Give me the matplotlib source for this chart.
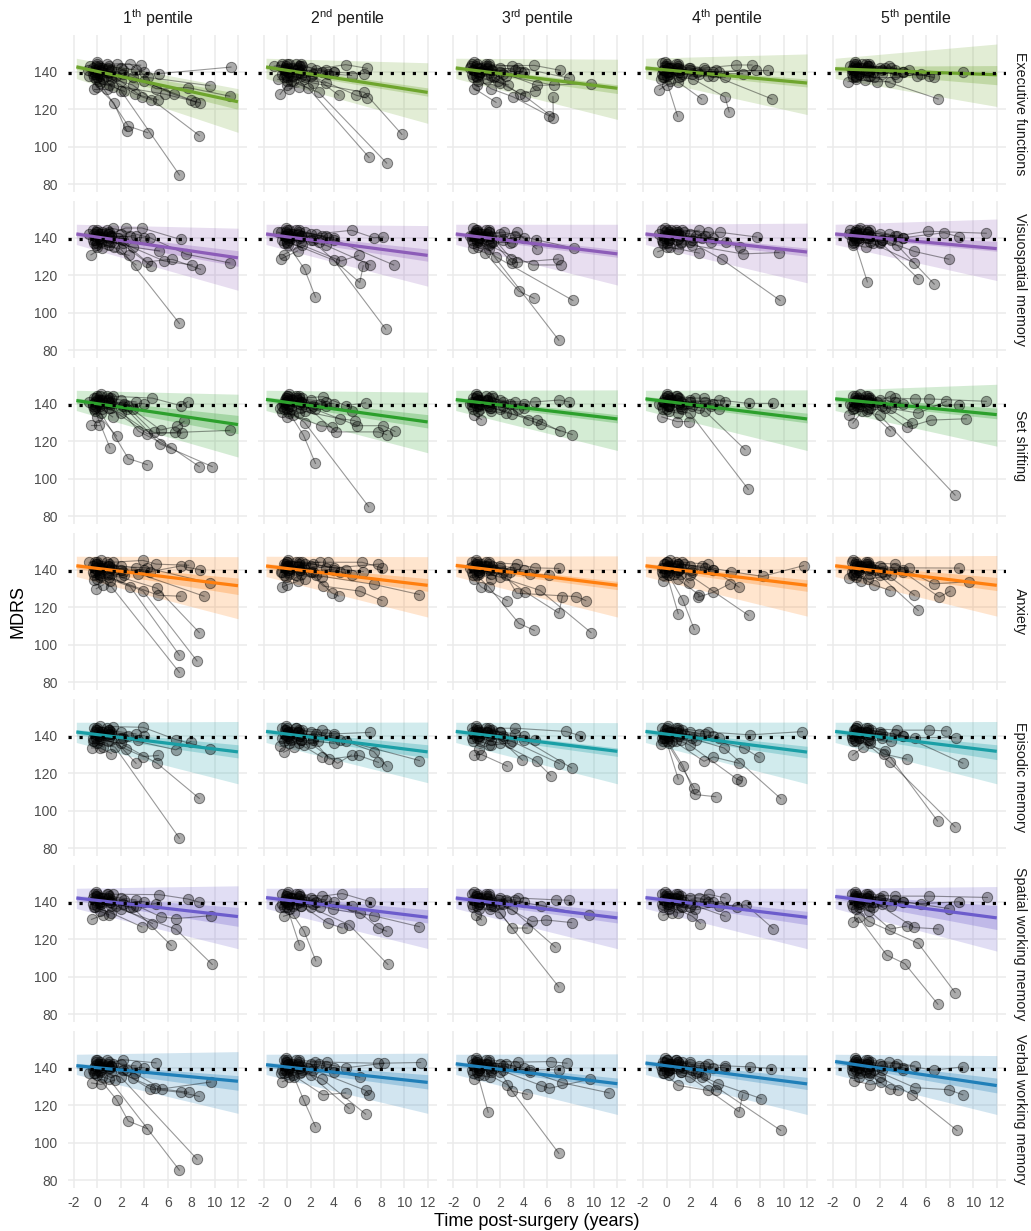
import matplotlib
matplotlib.use('Agg')
import matplotlib.pyplot as plt
import numpy as np

plt.rcParams['font.family'] = ['Liberation Sans', 'DejaVu Sans']
plt.rcParams['mathtext.fontset'] = 'custom'
plt.rcParams['mathtext.rm'] = 'Liberation Sans'
plt.rcParams['axes.unicode_minus'] = False

# ---- labels / scales ----
domains = ['Executive functions', 'Visuospatial memory', 'Set shifting', 'Anxiety',
           'Episodic memory', 'Spatial working memory', 'Verbal working memory']
pentiles = ['1', '2', '3', '4', '5']
suffixes = ['th', 'nd', 'rd', 'th', 'th']
colours = ['#6ea52d', '#8c5cb8', '#2ca02c', '#ff7f0e', '#1a9fa6', '#6c5ccc', '#1f7fb8']
x_ticks = [-2, 0, 2, 4, 6, 8, 10, 12]
y_ticks = [80, 100, 120, 140]
ref_mdrs = 139.6
fit_x = [-1.8, 12]

# ---- patient trajectories per panel: (t1, mdrs1, t2, mdrs2, ...) ----
# stable patients packed near baseline, seen in every panel
baseline_cluster = [(-0.2,141, 0.9,142), (0.0,144, 1.1,140, 2.2,139), (-0.4,139, 0.4,142),
                    (0.1,142, 1.0,143, 2.0,142, 3.3,141), (-0.3,137, 0.2,139, 1.2,138),
                    (-0.1,143, 1.2,141, 4.0,140), (0.2,140, 0.8,144)]

exec_fn = [
    [(-0.3,140, 1.6,138, 5.3,139, 11.4,142.5), (0.0,132, 1.4,123.4, 2.5,108.4), (0.1,135, 2.65,111, 4.3,107.5),
     (0.0,137, 2.0,130, 7.0,85), (0.2,138, 3.0,133, 8.7,106), (-0.4,142, 2.75,144.3, 4.3,137, 9.6,132.6),
     (-0.2,139, 1.2,136, 3.25,128, 5.2,125), (0.3,141, 2.0,135, 3.8,126.6, 4.6,125),
     (-0.6,143, 1.0,140, 4.0,135, 6.5,128, 8.35,124), (-0.1,136, 1.0,133, 5.8,128, 8.8,123.4),
     (0.0,145, 2.2,141, 5.0,131, 7.7,131.6, 11.3,127), (-0.8,141, 0.8,138, 3.0,137, 8.0,125),
     (-0.3,131, 0.8,131), (0.1,143, 1.7,144.3, 3.7,143.5), (-0.7,138, 0.5,136), (0.2,134, 1.3,132, 2.3,129.5)],
    [(-0.3,141, 1.0,140, 5.0,143.8, 6.85,141.8), (0.0,137, 1.8,131.3, 7.0,94.3), (0.3,135, 2.7,129, 8.5,91.3),
     (-0.2,139, 2.2,134, 6.6,129, 9.8,106.6), (-0.5,143, 1.1,143, 4.4,127.5), (0.1,140, 2.0,138, 5.9,127.5, 6.8,126),
     (-0.8,136, 0.5,135, 3.0,140, 6.6,139), (-0.6,128, 0.0,133), (-1.1,143, 0.2,144, 1.3,143),
     (0.0,135, 1.5,137, 3.5,139, 5.5,138), (-0.2,142, 1.2,144, 2.5,141, 4.0,140), (0.5,138, 1.4,136, 3.3,134),
     (-0.4,144, 0.8,139), (0.2,131, 1.0,132)],
    [(-0.3,141, 0.8,143, 4.9,143.4, 7.1,140.8), (-0.2,131, 1.64,123.7), (0.0,137, 1.2,131, 3.1,126.6, 6.2,116.4),
     (0.2,139, 2.0,134, 4.1,127, 6.53,115.5, 6.5,126.7), (-0.5,143, 2.0,140, 5.1,132.7, 9.72,133.6),
     (0.1,135, 1.5,137, 3.7,128, 5.0,130), (-0.4,144, 1.0,144, 3.0,143, 7.9,136.6), (0.3,140, 2.5,138, 6.6,132.7),
     (-0.1,138, 0.9,136, 2.7,133), (-0.6,142, 0.5,141, 3.5,142), (0.0,133, 1.8,135), (-0.2,145, 1.3,141, 3.8,140)],
    [(-0.3,141, 0.95,116.3), (-0.6,130.5, 0.0,133, 1.0,134.5, 3.0,125.5), (0.0,138, 2.3,136, 5.0,126.5, 5.35,118.6),
     (0.2,140, 1.1,137, 4.0,138, 9.0,125.5), (-0.4,144.5, 1.0,144, 3.2,142, 5.97,143.6, 7.3,143.6),
     (0.1,142, 2.0,141, 4.5,140, 7.6,140.7), (-0.2,137, 1.3,139, 3.5,138, 5.0,137),
     (0.0,143, 0.9,141, 2.6,140, 8.7,140.7), (-0.5,136, 0.3,135), (0.3,139, 1.9,142, 4.2,141),
     (-0.1,145, 1.0,142), (0.0,140, 2.8,139, 6.5,139)],
    [(-0.3,140, 1.0,138, 7.0,125.5), (-0.7,134.7, 0.75,135.6), (0.0,136, 1.74,134.7, 2.88,134.7),
     (-0.2,144, 1.0,143, 3.0,142, 5.2,138, 9.1,139.8), (0.1,142, 1.2,143, 4.5,141, 6.2,137.5),
     (-0.4,141, 2.5,142, 6.6,137), (0.0,138, 0.8,140, 3.3,139), (-0.5,143, 0.5,144, 2.2,141),
     (0.2,139, 1.5,137, 3.5,137, 5.5,139), (-0.1,145, 1.1,144), (0.0,137, 1.4,140), (-0.3,142, 2.8,143, 4.0,140)],
]

visuo_mem = [
    [(0.0,137, 2.0,134, 7.0,94.3), (-0.55,130.9, 0.4,134.6, 2.7,130.6), (-0.3,142, 1.4,135, 3.3,125.5),
     (0.2,140, 2.4,145.2, 3.8,145.2, 7.1,139.1), (-0.2,139, 1.8,140, 4.2,127.2, 6.4,128.5, 8.8,123.2),
     (0.0,143, 1.0,142, 4.55,125.1), (0.3,138, 2.2,137, 5.7,127.6, 8.1,125.5),
     (-0.4,144, 1.3,145, 4.5,140, 7.6,131.2, 11.3,126.6), (-0.1,136, 0.9,138, 3.0,135, 5.3,133),
     (0.1,141, 1.2,141, 2.8,141), (-0.7,142, 0.4,143), (0.0,135, 1.0,136)],
    [(0.0,138, 4.0,128, 8.42,91.3), (0.1,136, 1.49,123.2, 2.42,108.4), (-0.2,141, 2.0,139, 6.2,116.1, 6.5,125.1),
     (0.3,140, 3.3,136, 7.1,125.5), (-0.5,143, 1.0,144, 4.0,139, 9.1,125.5),
     (0.0,142, 2.5,142, 5.5,144, 7.4,140, 8.2,140.4), (-0.5,128.8, 0.9,133),
     (-0.3,131, 1.3,136, 4.6,127.6, 6.1,130.6), (0.2,144, 1.2,141, 3.0,141), (-0.8,143, 0.3,141),
     (0.0,137, 0.8,139, 2.7,138), (-0.1,145, 1.5,143, 3.5,140)],
    [(0.0,138, 1.0,134, 7.0,85.4), (-0.3,134.5, 0.7,132, 3.6,111.5, 4.9,107.7), (0.2,140, 1.6,130, 8.2,106.6),
     (-0.2,142, 2.3,143, 5.05,139, 8.3,134.4), (0.1,143, 1.0,143, 2.95,128.7, 3.4,127),
     (-0.4,141, 1.4,138, 3.0,126.6, 6.96,128.7), (0.0,139, 3.4,142.9, 5.1,134.1),
     (0.3,137, 1.0,136, 4.77,125.5, 7.2,125.5), (-0.1,144, 0.7,141, 2.8,137), (-0.6,141, 0.5,140),
     (0.1,135, 1.2,137, 3.0,138), (-0.3,145, 1.0,144)],
    [(-0.2,140, 2.0,138, 4.7,128.6, 9.69,106.6), (-0.75,132.5, 0.3,135, 2.8,131.8),
     (0.0,137, 2.2,136, 6.5,131.4, 9.6,132.1), (0.2,143, 1.3,144, 3.5,143, 4.6,142.9, 7.7,140.4),
     (-0.4,144, 1.0,142, 5.1,137.8), (0.1,141, 3.0,140, 6.3,135.3), (-0.3,138, 0.9,139, 2.5,141),
     (0.0,135, 1.0,134), (-0.6,142, 0.4,144, 1.5,143), (0.2,139, 1.2,137, 3.8,138), (-0.1,145, 0.8,143, 2.8,144)],
    [(-0.3,141, 0.95,116.5), (0.0,139, 2.0,138, 5.3,118.2), (0.2,140, 3.5,136, 6.66,115.3),
     (-0.2,138, 1.4,137, 4.97,126.6), (0.1,142, 2.2,139, 4.97,132.7, 7.9,128.6),
     (-0.5,144, 1.0,143, 3.5,141, 6.1,143.5, 11.1,142.4), (0.0,143, 1.3,141, 4.0,140, 7.5,142.7, 8.8,140.4),
     (-0.3,136, 0.8,135, 2.0,137), (0.3,145, 1.2,144, 2.8,142), (-0.1,140, 0.9,140, 3.0,139), (-0.6,142, 0.2,144)],
]

set_shift = [
    [(0.0,133, 1.07,116.5), (-0.2,136, 1.64,122.8), (0.3,135, 2.64,110.8, 4.26,107.5), (-0.1,139, 2.0,135, 8.7,106.5),
     (0.1,141, 2.5,137, 5.35,118.6, 9.8,106.5), (-0.55,128.8, 0.1,128.8), (-0.3,143, 1.2,143, 3.5,125.4, 6.26,116.5),
     (0.2,144, 1.3,144, 4.7,143, 7.1,139, 7.7,141.1), (-0.4,140, 1.0,138, 4.26,124, 6.63,124.7, 11.3,125.8),
     (0.0,142, 2.3,140, 4.8,124.7, 7.2,124.3), (-0.2,138, 3.0,137, 5.4,126, 6.8,128, 7.4,130.6),
     (0.3,145, 1.0,141, 2.6,139), (-0.7,141, 0.4,137, 1.3,133)],
    [(0.0,137, 1.5,130, 6.97,85.1), (0.2,135, 1.4,123.2, 2.42,108.2), (-0.4,135.6, 0.5,134, 2.9,128.2, 3.8,127.6),
     (-0.2,142, 1.4,140, 4.2,125, 7.8,125, 8.5,123.5), (0.1,144, 1.3,143, 3.1,143.8, 5.0,139, 6.7,140.5),
     (-0.3,140, 2.0,138, 6.0,128.3, 8.2,128.3, 9.2,125.3), (0.0,143, 1.2,141, 3.3,139, 5.5,136),
     (0.3,139, 1.5,136, 4.5,132, 5.8,131), (-0.1,141, 0.8,143, 2.8,140), (-0.6,138, 0.3,137),
     (0.2,145, 1.0,144), (0.0,133, 1.0,135, 2.4,137)],
    [(-0.2,134, 0.4,131.6), (0.0,139, 2.0,137, 5.5,129, 8.15,123.6), (0.2,140, 3.0,134.4, 5.1,131.6, 7.1,125.4),
     (-0.3,143, 1.3,144, 4.4,131.6), (0.1,142, 2.2,141, 5.0,141, 7.04,142, 7.9,141), (-0.4,141, 1.0,139, 3.5,137),
     (0.0,144, 1.4,143, 2.8,140), (0.3,137, 1.2,136, 2.5,135), (-0.1,145, 0.9,142),
     (-0.6,140, 0.4,140, 4.0,138), (0.1,136, 1.1,138)],
    [(0.0,137, 2.0,135, 6.98,94.4), (0.2,139, 3.3,136, 6.7,115.6), (-0.2,142, 2.0,141, 4.5,142, 7.0,140.2, 9.1,140.2),
     (-0.4,133, 0.9,130.5, 1.9,130.5), (0.1,144, 1.1,143, 3.2,143, 5.0,141), (-0.3,141, 1.2,139, 4.5,137.4),
     (0.3,143, 1.5,140, 2.8,138), (-0.6,140, 0.2,136, 1.0,135), (0.0,145, 0.9,144, 2.4,143), (0.1,139, 1.3,137, 3.8,139)],
    [(-0.28,129.7, 0.5,136, 2.0,134, 8.44,91.3), (-0.64,133.8, 1.0,137, 2.92,125.6),
     (0.0,141, 1.5,140, 4.3,127.4, 6.4,131.3, 9.4,132), (0.2,143, 1.2,143, 3.3,143, 5.0,142.6, 6.2,142.6, 11.1,141.3),
     (-0.3,144, 1.0,144, 4.8,129.7), (0.1,139, 2.5,138, 5.3,135, 7.7,141.4), (-0.2,138, 0.9,136, 3.0,138, 8.8,139.5),
     (0.0,142, 1.8,141, 2.9,144), (0.3,145, 1.3,142), (-0.5,140, 0.4,141)],
]

anxiety = [
    [(0.0,135, 1.2,131, 7.0,85.3), (0.2,137, 2.8,131, 7.0,94.5), (-0.2,139, 3.9,128.6, 8.5,91.4),
     (0.1,138, 2.0,136, 5.1,130.1, 8.7,106.5), (-0.1,129.9, 0.5,132), (-0.3,134.7, 1.0,136, 5.2,126.4, 7.1,125.9),
     (0.0,143, 1.3,144, 3.9,145, 5.0,143, 7.8,142.4), (-0.4,142, 2.0,140, 4.5,139, 7.1,142, 8.8,140),
     (0.3,141, 1.4,140, 3.5,138, 9.1,125.9), (-0.2,144, 1.0,142, 4.2,141, 9.6,133), (0.0,140, 0.9,138, 2.3,137),
     (-0.7,144, 0.3,145), (0.2,136, 1.1,134)],
    [(-0.4,130.7, 0.0,132, 1.5,135), (0.1,140, 2.0,139, 3.8,127.7, 4.4,126),
     (-0.2,142, 1.4,141, 3.1,131.3, 6.2,128.6, 8.1,123.6), (0.2,138, 2.5,137, 7.4,132.2, 11.3,126.8),
     (0.0,144, 1.0,144, 3.5,144, 6.4,144, 8.1,141), (-0.3,143, 1.3,144, 4.0,141, 7.8,143),
     (0.3,141, 2.2,143, 5.0,140, 6.5,139), (-0.5,139, 0.8,137, 3.0,136), (0.1,145, 1.5,143, 2.8,144),
     (-0.1,136, 0.9,134), (0.0,142, 1.1,140, 4.5,139, 5.5,137)],
    [(0.0,137, 1.0,131, 3.6,111.4, 4.9,107.7), (-0.2,135, 0.4,130.7, 2.6,123.6), (0.2,139, 2.0,136, 5.4,129, 9.75,106.5),
     (-0.3,142, 1.5,140, 4.1,128.4, 7.0,116.9, 7.3,125.7), (0.1,140, 2.5,137, 3.4,127.5, 8.5,125.7, 9.3,123.6),
     (-0.4,144, 1.0,144, 3.4,143, 5.0,141, 7.0,140.7), (0.0,143, 1.3,142, 4.5,138, 6.2,137),
     (0.3,141, 0.9,140, 2.8,139), (-0.1,145, 0.7,142, 2.0,141), (0.2,138, 1.2,135), (-0.6,141, 0.4,143)],
    [(0.0,138, 1.0,116.6), (0.2,137, 1.4,123.7, 2.37,108.2), (-0.3,133.8, 1.0,135, 2.8,126.5, 2.7,125.4, 4.0,128, 5.4,132.5),
     (0.1,141, 2.0,137, 7.0,115.7), (-0.2,143, 1.5,143, 4.0,140, 6.2,130.7),
     (0.0,144, 1.0,143, 3.0,142, 5.5,139, 8.2,136.5, 11.7,142.2), (-0.4,141, 0.9,139, 1.9,133),
     (0.3,145, 1.3,144, 3.5,143), (-0.1,139, 0.6,138, 2.2,140), (0.1,142, 1.0,140)],
    [(0.0,139, 2.0,137, 5.3,118.3), (0.2,141, 2.5,138, 4.97,126.5), (-0.2,138, 1.5,132, 2.9,128.9),
     (0.1,143, 1.2,142, 4.0,139, 7.1,125.4, 8.0,128.6), (-0.4,144, 1.0,144, 3.3,143, 6.6,132.5, 9.6,133.6),
     (-0.6,135.6, 0.4,134), (0.3,142, 1.3,141, 4.5,141, 8.8,140.9), (0.0,136, 1.0,135, 3.0,137),
     (-0.3,145, 0.8,143, 2.2,141), (0.2,140, 1.6,140)],
]

episodic_mem = [
    [(0.0,136, 1.5,134, 7.0,85.4), (0.2,138, 2.0,136, 5.1,125.3, 8.7,106.6), (-0.5,133.5, 0.25,133.5, 1.2,130.5),
     (-0.2,142, 1.0,141, 3.3,125.3), (0.1,140, 2.4,133, 3.9,128.9, 5.2,129.5),
     (-0.3,144, 1.3,144.9, 3.9,144.5, 6.7,138, 9.6,133.1), (0.0,143, 2.0,139, 6.7,132.5, 7.97,136.9),
     (0.3,141, 1.2,142, 3.5,138), (-0.1,139, 0.9,137), (0.2,145, 1.0,143, 2.6,140), (-0.4,137, 0.5,134)],
    [(-0.3,131.2, 0.6,134), (-0.6,134.3, 1.0,136, 3.0,128.5), (0.0,139, 2.0,136, 4.3,125.3, 5.5,129.8),
     (0.2,141, 2.2,138, 3.6,127.6, 6.1,129.5, 7.8,125.8), (-0.2,143, 1.3,143, 4.0,141, 7.1,141.8),
     (0.1,142, 1.0,140, 5.0,137, 7.4,131.6, 8.5,123.7), (0.0,140, 2.5,141, 4.5,138, 11.3,126.8),
     (-0.4,144, 0.8,144, 3.0,143), (0.3,138, 1.4,135, 2.6,137), (-0.1,145, 0.9,142), (0.2,136, 1.2,138, 4.0,136)],
    [(-0.2,129.6, 0.4,130, 2.6,123.8), (0.0,139, 2.0,136, 5.1,126.3, 6.3,118.8), (0.2,140, 3.0,137, 7.05,125.2),
     (-0.3,142, 1.5,141, 3.9,126.9), (0.1,143, 1.3,143, 4.0,138, 8.1,122.8),
     (-0.4,144, 1.0,144, 3.3,144, 7.6,142.3, 8.8,140.1), (0.0,141, 2.2,140, 5.0,138),
     (0.3,137, 1.2,135, 2.8,136), (-0.1,145, 0.9,142, 2.0,142), (0.2,133, 1.0,135)],
    [(0.0,137, 1.0,117), (0.2,136, 1.4,124, 2.4,108.7, 4.2,107.5), (-0.2,139, 2.37,112.2),
     (0.1,140, 2.0,135, 6.0,117, 6.4,116), (-0.3,141, 3.2,126.4, 4.0,128.7, 6.2,125.3),
     (0.0,143, 2.5,138, 4.9,133.5, 9.75,106.5), (0.3,142, 1.5,141, 6.6,133.5, 7.9,128.5),
     (-0.4,144, 1.0,144, 3.5,142, 7.1,140.5, 11.6,142.2), (-0.5,135.6, 0.5,137), (0.1,145, 1.3,143, 2.8,141),
     (-0.1,139, 0.8,137, 4.5,139)],
    [(0.0,137, 2.5,132, 6.94,94.6), (0.2,139, 2.9,125.8, 8.44,91.4), (-0.3,129.7, 0.6,134),
     (0.1,141, 2.4,130.2, 4.3,127.6), (-0.2,143, 1.3,143, 4.0,140, 9.1,125.4),
     (0.0,144, 1.0,144, 3.5,143, 6.2,143, 7.7,142.6), (0.3,142, 2.0,141, 5.0,139, 8.5,139),
     (-0.4,140, 1.0,138, 3.0,137), (0.1,145, 0.8,142, 2.2,141), (-0.1,138, 1.2,136)],
]

spatial_wm = [
    [(-0.5,130.6, 0.5,133), (0.0,138, 2.0,136, 6.7,125.4, 9.8,106.6), (0.2,140, 3.0,137, 6.3,116.7),
     (-0.2,137, 1.2,134, 3.8,126.6), (0.1,141, 1.6,138, 4.7,128.4), (-0.3,144, 1.3,144, 5.3,143.8, 7.7,141.5, 8.7,139.8),
     (0.0,143, 2.3,141, 5.4,132, 6.7,131, 9.7,132.6), (0.3,139, 1.2,140, 3.3,138, 5.0,139),
     (-0.4,142, 0.8,141, 2.8,137), (0.2,135, 1.0,133), (-0.1,145, 0.9,144)],
    [(0.0,137, 1.05,117), (0.2,136, 1.45,124.3, 2.45,108.5), (-0.3,132.3, 0.6,134),
     (0.1,139, 2.0,137, 5.3,127.7, 8.6,106.6), (-0.2,141, 1.2,138, 3.5,128.6, 4.7,126),
     (0.0,143, 2.5,140, 6.2,134.2, 7.8,126, 8.5,124.3), (-0.4,144, 1.0,144, 3.0,143, 4.7,144.4, 7.1,140),
     (0.3,142, 1.4,141, 3.9,136, 7.4,132.5, 11.3,126.7), (-0.6,137, 0.5,138, 2.8,137),
     (0.1,145, 1.1,143, 2.2,141), (-0.1,140, 0.8,139, 5.5,138)],
    [(0.0,138, 2.0,134, 7.0,94.6), (0.2,139, 3.0,136, 6.7,115.8), (-0.1,133.1, 0.4,130.4),
     (-0.3,141, 1.5,138, 3.0,126, 4.3,126), (0.1,142, 2.0,139, 4.7,129.5, 5.9,130.3, 8.1,128.9),
     (0.0,143, 2.5,141, 5.5,138, 9.6,132.7), (-0.4,144, 1.0,144, 3.5,142, 6.8,141, 7.9,140.8),
     (0.3,140, 1.2,139, 2.6,140), (-0.2,145, 0.8,143, 1.9,141), (0.2,136, 1.1,136)],
    [(0.0,139, 2.0,137, 6.8,138.3, 9.1,125.7), (-0.3,132.9, 0.5,134), (0.2,138, 2.2,132.3, 2.9,128.4),
     (-0.2,141, 1.5,140, 5.0,132.3), (0.1,143, 1.2,143, 3.6,144, 5.0,142), (-0.4,144, 1.0,144, 2.8,142, 6.0,137),
     (0.0,142, 0.8,140, 3.5,140), (0.3,140, 1.3,137, 2.4,136), (-0.1,145, 0.7,142), (0.2,136, 1.0,134, 4.5,138)],
    [(-0.3,129, 0.2,131.7, 2.6,111.6, 4.15,107, 6.97,85.4), (0.0,136, 1.05,129.6, 5.3,117.8, 8.44,91.6),
     (0.2,140, 2.9,125.5, 4.3,127), (-0.2,142, 1.5,140, 4.95,126.3, 7.0,125.5), (0.1,143, 1.2,143, 4.0,140, 7.9,136.4),
     (-0.4,144, 1.0,144, 3.3,143, 6.2,143, 11.2,142.3), (0.0,141, 2.0,141, 5.5,139, 8.8,140),
     (0.3,139, 1.4,137, 3.0,138), (-0.1,145, 0.9,142, 2.3,143), (0.2,137, 1.1,135)],
]

verbal_wm = [
    [(0.0,136, 1.0,134, 7.0,85.4), (0.2,138, 2.0,135, 8.5,91.3), (-0.2,137, 1.64,123, 2.64,111.6, 4.27,107.5),
     (-0.5,131.9, 0.3,131.1, 1.5,133.5), (0.1,141, 2.2,144.3, 5.0,142.6), (-0.3,140, 1.2,141, 4.5,128.7, 7.1,126.9, 8.7,124.7),
     (0.0,142, 3.0,134.4, 4.9,129.1, 7.8,126.9), (0.3,139, 1.0,140, 3.2,137, 5.5,128.7, 9.67,132.4),
     (-0.7,137.3, 0.4,135), (-0.1,144, 0.9,141, 2.5,139), (0.2,143, 1.3,142)],
    [(-0.4,132.6, 0.6,135, 1.4,123, 2.42,108.6), (0.0,138, 2.0,136, 5.3,118.3), (0.2,140, 3.0,134, 6.7,115.3),
     (-0.2,139, 3.05,125.6, 5.0,126.6), (0.1,142, 1.8,140, 6.7,127.9, 7.0,125.6),
     (-0.3,144, 1.0,144, 3.4,143, 7.8,142.4, 11.4,142.8), (0.0,143, 2.4,143, 5.0,140, 8.3,142.4),
     (0.3,141, 1.3,139, 4.0,138, 6.2,135), (-0.5,137, 0.5,136), (-0.1,145, 0.9,141, 2.7,142), (0.2,135, 1.1,137)],
    [(0.0,138, 0.97,116.3), (0.2,139, 2.6,131, 7.0,94.4), (-0.2,133.9, 0.6,136), (0.1,141, 2.0,138, 3.0,127.6, 4.3,125.8),
     (-0.3,142, 1.5,140, 5.5,130.5, 6.2,129.1, 9.7,133.9), (0.0,143, 2.5,142, 4.5,138, 7.3,132, 11.3,126.6),
     (-0.4,144, 1.0,144, 3.5,143, 6.3,143.3, 7.7,142.4), (0.3,140, 1.2,139, 4.5,139, 7.0,138.9),
     (-0.1,145, 0.8,142, 2.2,141), (0.2,136, 1.1,135)],
    [(0.0,138, 2.0,135, 6.2,116.5, 6.5,125.6), (0.2,139, 3.0,135, 9.75,106.6), (-0.2,137, 1.0,130.6, 3.5,127.9, 4.2,128.3),
     (0.1,141, 2.5,137, 4.4,131.6, 8.1,123.5), (-0.3,143, 1.3,143, 3.5,142, 5.0,141, 7.1,140.5, 8.9,139.6),
     (0.0,144, 1.0,143, 2.8,141, 5.0,140), (0.3,142, 1.5,140, 2.7,138), (-0.5,141, 0.4,140),
     (-0.1,145, 0.8,144, 2.0,143), (0.2,136, 1.2,138, 3.3,136)],
    [(0.0,139, 2.0,135, 4.8,125.6, 8.6,106.6), (-0.2,133.2, 1.2,131, 2.1,132.2), (0.2,140, 2.9,128.6, 3.6,128.3),
     (-0.3,142, 1.5,139, 5.0,129.4, 7.9,128.3, 9.1,125.6), (0.1,143, 1.3,143, 3.5,142, 6.6,138.7, 9.1,140.5),
     (0.0,144, 1.0,144, 2.8,143, 5.0,141), (-0.4,141, 0.8,138, 4.0,139), (0.3,137, 1.1,136),
     (-0.1,145, 0.9,142, 2.2,141), (0.2,135, 1.2,137)],
]

trajectories = [exec_fn, visuo_mem, set_shift, anxiety, episodic_mem, spatial_wm, verbal_wm]

# ---- fitted line and bands, value at fit_x[0] and fit_x[1] ----
fit_start = [[142.6, 142.5, 142.0, 142.0, 141.6], [142.0, 142.0, 142.0, 142.0, 142.0],
             [141.7, 142.3, 142.2, 142.6, 142.6], [142.1, 142.0, 142.3, 142.1, 142.1],
             [142.0, 142.3, 142.3, 142.3, 142.3], [142.0, 142.2, 142.0, 142.2, 142.8],
             [141.1, 141.6, 142.1, 142.5, 143.3]]
fit_end = [[124.0, 129.0, 131.2, 134.0, 138.4], [129.3, 130.6, 131.4, 132.4, 134.2],
           [128.9, 130.3, 131.9, 131.9, 134.2], [131.5, 131.7, 131.7, 131.7, 131.7],
           [131.4, 131.4, 131.7, 131.3, 131.7], [132.1, 131.7, 131.4, 131.7, 131.4],
           [132.8, 132.2, 131.5, 131.4, 130.5]]
ci_top_end = [[128.5, 131.4, 133.1, 136.1, 143.3], [133.1, 134.0, 133.7, 134.5, 138.0],
              [133.8, 134.2, 134.2, 135.0, 137.7], [135.6, 135.3, 133.8, 134.7, 135.9],
              [135.2, 135.2, 133.5, 134.4, 135.2], [137.0, 135.8, 134.9, 134.9, 138.0],
              [135.8, 136.3, 134.5, 134.9, 134.5]]
ci_bot_end = [[120.0, 127.0, 128.4, 131.9, 133.1], [124.8, 127.5, 129.6, 130.1, 132.8],
              [124.0, 127.1, 129.8, 129.8, 132.0], [126.8, 128.5, 129.4, 128.5, 128.9],
              [128.2, 128.2, 129.0, 128.2, 127.3], [126.9, 128.7, 128.7, 127.8, 125.2],
              [128.0, 128.7, 129.3, 128.4, 126.6]]
pi_top_end = [[131.0, 144.8, 146.7, 149.5, 154.8], [145.1, 146.5, 147.2, 147.8, 150.0],
              [145.1, 146.2, 147.4, 147.4, 150.4], [147.0, 147.0, 147.4, 147.0, 147.6],
              [147.6, 147.3, 147.0, 147.3, 147.6], [148.5, 147.6, 147.2, 147.2, 148.1],
              [148.6, 147.8, 147.4, 146.9, 146.5]]
pi_bot_end = [[107.7, 112.5, 114.6, 117.2, 121.5], [112.0, 114.2, 114.8, 116.0, 117.2],
              [111.6, 113.9, 115.1, 115.1, 117.4], [113.9, 114.8, 114.8, 115.3, 115.3],
              [114.4, 115.0, 114.4, 114.4, 114.4], [115.0, 115.1, 115.0, 115.0, 113.7],
              [115.7, 115.7, 115.1, 115.1, 115.1]]
pi_top_start = 147.2
pi_bot_start = 136.4
ci_half_start = 1.3

# ---- layout (pixels) ----
W, H = 1031, 1231
fig = plt.figure(figsize=(W / 100, H / 100), dpi=100)
left0, top0, pw, ph, dx, dy = 68, 35, 179, 157, 189.7, 166


def px_box(l, t, w, h):
    return [l / W, 1 - (t + h) / H, w / W, h / H]


for r in range(7):
    col = colours[r]
    for c in range(5):
        ax = fig.add_axes(px_box(left0 + dx * c, top0 + dy * r, pw, ph))
        ax.set_xlim(-2.51, 12.77)
        ax.set_ylim(75.9, 159.6)
        for s in ax.spines.values():
            s.set_visible(False)
        ax.set_xticks(x_ticks)
        ax.set_yticks(y_ticks)
        ax.grid(True, color='#ebebeb', lw=1.1)
        ax.set_axisbelow(True)
        ax.tick_params(length=0, labelsize=10, labelcolor='#4d4d4d', pad=5.5)
        ax.tick_params(axis='y', pad=7.5)
        if c > 0:
            ax.set_yticklabels([])
        if r < 6:
            ax.set_xticklabels([])
        else:
            ax.set_xticklabels([str(v) for v in x_ticks])

        # bands
        ax.fill_between(fit_x, [pi_bot_start, pi_bot_end[r][c]], [pi_top_start, pi_top_end[r][c]],
                        color=col, alpha=0.2, lw=0, zorder=1)
        ax.fill_between(fit_x, [fit_start[r][c] - ci_half_start, ci_bot_end[r][c]],
                        [fit_start[r][c] + ci_half_start, ci_top_end[r][c]],
                        color=col, alpha=0.28, lw=0, zorder=1.1)

        # patients
        pts_t, pts_y = [], []
        for tr in trajectories[r][c] + baseline_cluster:
            t = tr[0::2]
            y = tr[1::2]
            ax.plot(t, y, color='black', alpha=0.4, lw=0.8, zorder=2)
            pts_t += list(t)
            pts_y += list(y)
        ax.scatter(pts_t, pts_y, s=55, facecolors=(0, 0, 0, 0.33), edgecolors=(0, 0, 0, 0.45),
                   linewidths=0.7, zorder=3)

        # fit
        ax.plot(fit_x, [fit_start[r][c], fit_end[r][c]], color=col, lw=2.3, zorder=4,
                solid_capstyle='butt')
        ax.axhline(ref_mdrs, color='black', lw=2.3, linestyle=(0, (1, 2.45)),
                   dash_capstyle='butt', zorder=5)

        if r == 0:
            fig.text((left0 + dx * c + pw / 2) / W, 1 - 18 / H,
                     pentiles[c] + r'$^{\mathrm{' + suffixes[c] + '}}$ pentile',
                     ha='center', va='center', fontsize=11.5, color='#1a1a1a')
    fig.text(1020 / W, 1 - (top0 + dy * r + ph / 2) / H, domains[r], rotation=-90,
             ha='center', va='center', fontsize=10.3, color='#1a1a1a')

fig.text(18 / W, 1 - 611 / H, 'MDRS', rotation=90, ha='center', va='center', fontsize=13)
fig.text(537 / W, 1 - 1222 / H, 'Time post-surgery (years)', ha='center', va='center', fontsize=13)

fig.savefig('out.png', dpi=100)
